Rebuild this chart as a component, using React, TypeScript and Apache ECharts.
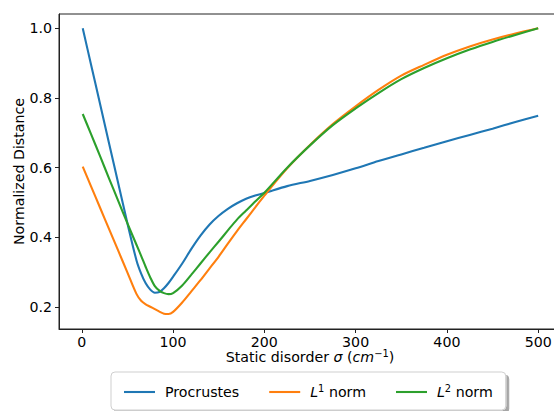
import React, { useEffect, useRef } from "react";
import * as echarts from "echarts";

const sigma = [1, 10, 20, 30, 40, 50, 60, 65, 70, 75, 80, 85, 90, 95, 100, 110, 120, 130, 140, 150, 160, 170, 180, 190, 200, 225, 250, 275, 300, 325, 350, 375, 400, 425, 450, 475, 500];

const procrustes = [1.0, 0.897, 0.783, 0.668, 0.554, 0.44, 0.333, 0.296, 0.268, 0.25, 0.241, 0.243, 0.254, 0.269, 0.287, 0.325, 0.367, 0.405, 0.437, 0.462, 0.482, 0.498, 0.511, 0.52, 0.527, 0.547, 0.562, 0.579, 0.598, 0.619, 0.638, 0.657, 0.676, 0.694, 0.712, 0.731, 0.749];

const l1Norm = [0.603, 0.547, 0.485, 0.423, 0.361, 0.299, 0.237, 0.218, 0.208, 0.201, 0.194, 0.187, 0.181, 0.18, 0.186, 0.213, 0.245, 0.277, 0.311, 0.345, 0.382, 0.418, 0.452, 0.486, 0.52, 0.598, 0.665, 0.725, 0.776, 0.823, 0.864, 0.895, 0.924, 0.948, 0.968, 0.985, 1.0];

const l2Norm = [0.754, 0.697, 0.633, 0.568, 0.504, 0.44, 0.378, 0.347, 0.315, 0.285, 0.26, 0.247, 0.24, 0.237, 0.24, 0.262, 0.293, 0.325, 0.357, 0.388, 0.42, 0.451, 0.477, 0.503, 0.528, 0.6, 0.664, 0.722, 0.77, 0.814, 0.854, 0.886, 0.914, 0.939, 0.961, 0.981, 1.0];

const seriesNames = ["Procrustes", "L¹ norm", "L² norm"];
const seriesColors = ["#1f77b4", "#ff7f0e", "#2ca02c"];
const xTicks = [0, 100, 200, 300, 400, 500];
const yTicks = [0.2, 0.4, 0.6, 0.8, 1.0];

const FONT = "DejaVu Sans";
const FS = 14.2;

const richStyles = {
  n: { fontFamily: FONT, fontSize: FS, color: "#000", lineHeight: 18 },
  i: { fontFamily: FONT, fontSize: FS, fontStyle: "italic", color: "#000", lineHeight: 18 },
  s: { fontFamily: FONT, fontSize: 9.9, color: "#000", verticalAlign: "top", lineHeight: 12 },
};

export default function App() {
  const ref = useRef<HTMLDivElement>(null);
  useEffect(() => {
    if (!ref.current) return;
    const chart = echarts.init(ref.current, null, { renderer: "svg" });
    const allData = [procrustes, l1Norm, l2Norm];
    chart.setOption({
      animation: false,
      backgroundColor: "#fff",
      grid: {
        left: 59,
        top: 14,
        width: 502,
        height: 315,
        show: true,
        borderColor: "#222",
        borderWidth: 1,
        containLabel: false,
        outerBoundsMode: "none",
      },
      legend: {
        data: seriesNames,
        left: 111,
        top: 372,
        orient: "horizontal",
        padding: [11, 13, 11, 13],
        itemGap: 30,
        itemWidth: 31,
        itemHeight: 2.1,
        icon: "rect",
        backgroundColor: "#fff",
        borderColor: "#cfcfcf",
        borderWidth: 1,
        borderRadius: 4,
        shadowColor: "rgba(0,0,0,0.35)",
        shadowBlur: 0,
        shadowOffsetX: 3,
        shadowOffsetY: 3,
        formatter: (name: string) => {
          if (name === "L¹ norm") return "{i|L}{s|1}{n| norm}";
          if (name === "L² norm") return "{i|L}{s|2}{n| norm}";
          return "{n|" + name + "}";
        },
        textStyle: {
          fontFamily: FONT,
          fontSize: FS,
          color: "#000",
          padding: [0, 0, 0, 5],
          rich: richStyles,
        },
      },
      xAxis: {
        type: "value",
        min: -25,
        max: 525,
        name: "{n|Static disorder }{i|σ}{n| (}{i|cm}{s|−1}{n|)}",
        nameLocation: "middle",
        nameGap: 19,
        nameMoveOverlap: false,
        nameTextStyle: { fontFamily: FONT, fontSize: FS, color: "#000", rich: richStyles },
        axisLine: { show: true, onZero: false, lineStyle: { color: "#222", width: 1 } },
        axisTick: { show: true, length: 4, inside: false, lineStyle: { color: "#222" }, customValues: xTicks },
        axisLabel: { customValues: xTicks, margin: 6, fontFamily: FONT, fontSize: FS, color: "#000" },
        splitLine: { show: false },
      },
      yAxis: {
        type: "value",
        min: 0.137,
        max: 1.041,
        name: "Normalized Distance",
        nameLocation: "middle",
        nameGap: 33,
        nameMoveOverlap: false,
        nameTextStyle: { fontFamily: FONT, fontSize: FS, color: "#000" },
        axisLine: { show: true, onZero: false, lineStyle: { color: "#222", width: 1 } },
        axisTick: { show: true, length: 4, inside: false, lineStyle: { color: "#222" }, customValues: yTicks },
        axisLabel: {
          customValues: yTicks,
          margin: 7,
          fontFamily: FONT,
          fontSize: FS,
          color: "#000",
          formatter: (v: number) => v.toFixed(1),
        },
        splitLine: { show: false },
      },
      series: seriesNames.map((name, k) => ({
        name,
        type: "line",
        data: sigma.map((x, i) => [x, allData[k][i]]),
        symbol: "none",
        smooth: 0.3,
        lineStyle: { color: seriesColors[k], width: 2.1 },
        itemStyle: { color: seriesColors[k] },
      })),
    });
    return () => chart.dispose();
  }, []);
  return (
    <div
      ref={ref}
      style={{ position: "absolute", left: 0, top: 0, width: 554, height: 411, background: "#fff" }}
    />
  );
}
